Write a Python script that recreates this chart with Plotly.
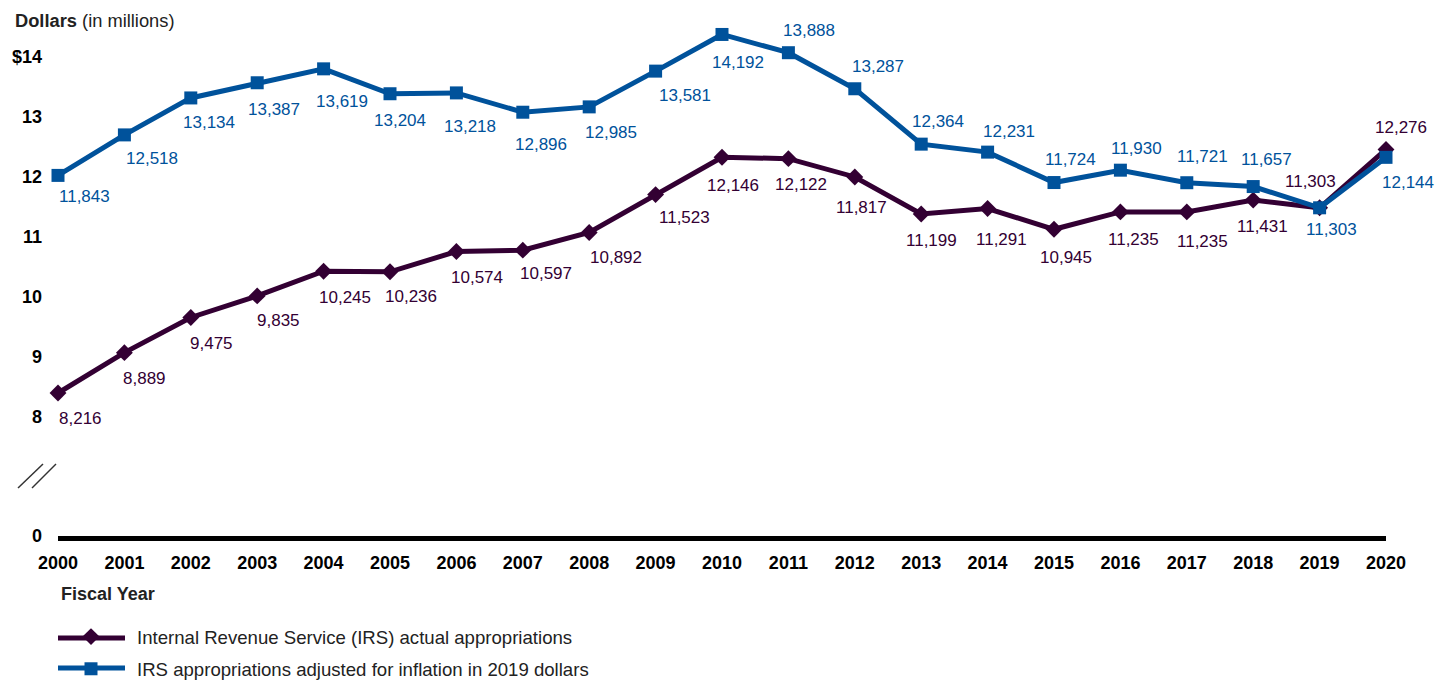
import plotly.graph_objects as go

years = list(range(2000, 2021))
actual = [8216, 8889, 9475, 9835, 10245, 10236, 10574, 10597, 10892, 11523,
          12146, 12122, 11817, 11199, 11291, 10945, 11235, 11235, 11431, 11303, 12276]
adjusted = [11843, 12518, 13134, 13387, 13619, 13204, 13218, 12896, 12985, 13581,
            14192, 13888, 13287, 12364, 12231, 11724, 11930, 11721, 11657, 11303, 12144]
ytick_vals = [8, 9, 10, 11, 12, 13, 14]
ytick_text = ["8", "9", "10", "11", "12", "13", "$14"]
series_names = ["Internal Revenue Service (IRS) actual appropriations",
                "IRS appropriations adjusted for inflation in 2019 dollars"]

# label offsets in pixels (dx right, dy down) -- styling only
off_actual = [(22, 25), (20, 26), (21, 26), (21, 25), (21, 26), (21, 25), (21, 26), (23, 23),
              (27, 25), (29, 23), (11, 28), (13, 26), (7, 31), (10, 26), (14, 31), (12, 28),
              (13, 28), (16, 30), (9, 26), (-9, -26), (15, -22)]
off_adj = [(26, 21), (28, 24), (18, 25), (17, 27), (18, 33), (10, 27), (14, 34), (18, 32),
           (22, 26), (29, 24), (16, 28), (21, -22), (23, -22), (17, -23), (21, -21), (16, -23),
           (16, -22), (16, -26), (13, -27), (12, 22), (22, 25)]

PURPLE = "#330033"
BLUE = "#00529B"
FONT = "Liberation Sans, Arial, sans-serif"

# page offset of the plot div (default body margin)
OFF = 8
# plot-area pixel geometry (page coordinates of the reference)
L, R, T, B = 58 - OFF, 1386 - OFF, 16 - OFF, 536 - OFF
W, H = 1450, 681
PX_PER_UNIT = 60.0
Y_BOTTOM = 5.833
Y_TOP = Y_BOTTOM + (B - T) / PX_PER_UNIT
ZERO_TICK = Y_BOTTOM + 11 / PX_PER_UNIT
LEG_IW = 82


def px_x(x):
    return (x - OFF - L) / (R - L)


def px_y(y):
    return (B - (y - OFF)) / (B - T)


fig = go.Figure()
fig.add_trace(go.Scatter(
    x=years, y=[v / 1000 for v in actual], mode="lines+markers", name=series_names[0],
    line=dict(color=PURPLE, width=5),
    marker=dict(symbol="diamond", size=13, color=PURPLE),
    cliponaxis=False, showlegend=False))
fig.add_trace(go.Scatter(
    x=years, y=[v / 1000 for v in adjusted], mode="lines+markers", name=series_names[1],
    line=dict(color=BLUE, width=5),
    marker=dict(symbol="square", size=13, color=BLUE),
    cliponaxis=False, showlegend=False))
# legend entries (marker only; line drawn as shape)
fig.add_trace(go.Scatter(x=[None], y=[None], mode="markers", name=series_names[0],
                         marker=dict(symbol="diamond", size=13, color=PURPLE),
                         legendgroup="a"))
fig.add_trace(go.Scatter(x=[None], y=[None], mode="markers", name=series_names[1],
                         marker=dict(symbol="square", size=13, color=BLUE),
                         legendgroup="b"))

annotations = []
for yr, v, (dx, dy) in zip(years, adjusted, off_adj):
    annotations.append(dict(x=yr, y=v / 1000, text=f"{v:,}", showarrow=False,
                            xshift=dx, yshift=-dy,
                            font=dict(family=FONT, size=17, color=BLUE)))
for yr, v, (dx, dy) in zip(years, actual, off_actual):
    annotations.append(dict(x=yr, y=v / 1000, text=f"{v:,}", showarrow=False,
                            xshift=dx, yshift=-dy,
                            font=dict(family=FONT, size=17, color=PURPLE)))

annotations.append(dict(xref="paper", yref="paper", x=px_x(13), y=px_y(8),
                        xanchor="left", yanchor="top", showarrow=False,
                        text="<b>Dollars</b> (in millions)",
                        font=dict(family=FONT, size=18.3, color="#222222")))
annotations.append(dict(xref="paper", yref="paper", x=px_x(59), y=px_y(594),
                        xanchor="left", yanchor="middle", showarrow=False,
                        text="<b>Fiscal Year</b>",
                        font=dict(family=FONT, size=18, color="#222222")))

shapes = []
# axis break marks
for (x0, y0, x1, y1) in [(18, 488, 43, 464), (32, 488, 56, 464)]:
    shapes.append(dict(type="line", xref="paper", yref="paper",
                       x0=px_x(x0), y0=px_y(y0), x1=px_x(x1), y1=px_y(y1),
                       line=dict(color="#333333", width=1.5)))
# legend lines
for (yy, col) in [(638, PURPLE), (668, BLUE)]:
    shapes.append(dict(type="line", xref="paper", yref="paper", layer="below",
                       x0=px_x(58), y0=px_y(yy), x1=px_x(125), y1=px_y(yy),
                       line=dict(color=col, width=5)))

leg_origin = 91 - 5 - LEG_IW / 2

fig.update_layout(
    width=W, height=H,
    margin=dict(l=L, r=W - R, t=T, b=H - B, autoexpand=False),
    plot_bgcolor="white", paper_bgcolor="white",
    font=dict(family=FONT, size=18, color="black"),
    showlegend=True,
    legend=dict(xref="container", yref="container",
                x=(leg_origin - OFF) / W, y=1 - (653 - OFF) / H,
                xanchor="left", yanchor="middle",
                itemwidth=LEG_IW, traceorder="grouped", tracegroupgap=5,
                font=dict(family=FONT, size=18.6, color="#222222"),
                bgcolor="rgba(0,0,0,0)"),
    annotations=annotations,
    shapes=shapes,
)
fig.update_xaxes(range=[2000, 2020], tickvals=years, ticktext=[str(y) for y in years],
                 showgrid=False, zeroline=False, showline=True, linecolor="black",
                 linewidth=5, ticks="", ticklabelstandoff=6, automargin=False,
                 tickfont=dict(family=FONT, size=18, color="black", weight="bold"))
fig.update_yaxes(range=[Y_BOTTOM, Y_TOP], tickvals=[ZERO_TICK] + ytick_vals,
                 ticktext=["0"] + ytick_text, ticklabelshift=11,
                 showgrid=False, zeroline=False, showline=False, ticks="",
                 ticklabelstandoff=15, automargin=False,
                 tickfont=dict(family=FONT, size=18, color="black", weight="bold"))

fig.write_html("out.html")
